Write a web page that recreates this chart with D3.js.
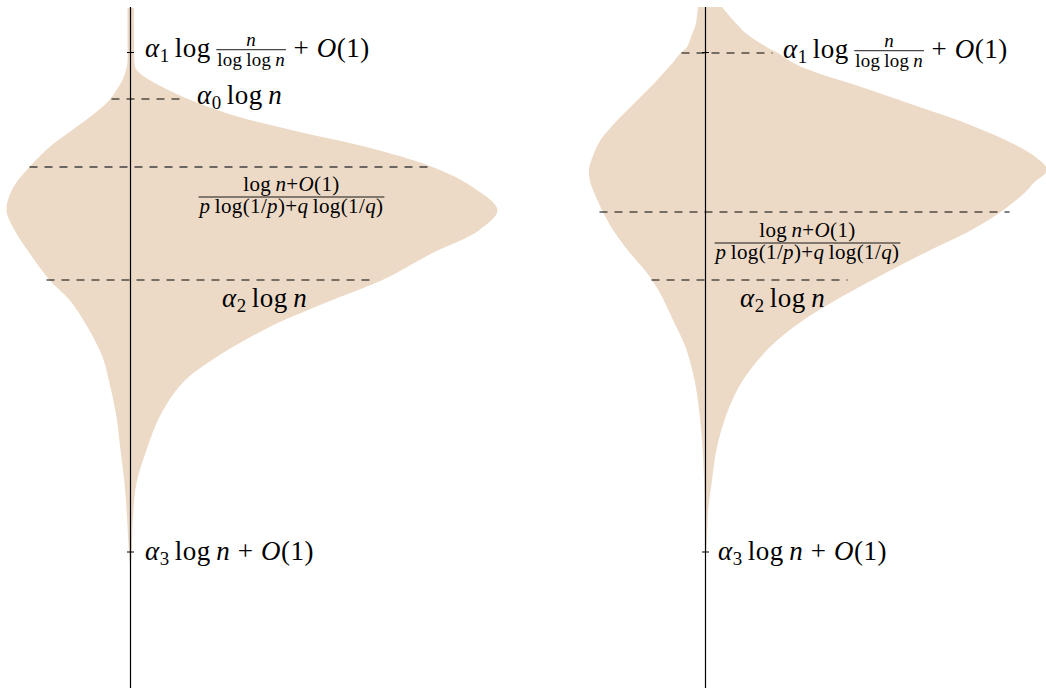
<!DOCTYPE html>
<html>
<head>
<meta charset="utf-8">
<script src="https://cdn.jsdelivr.net/npm/d3@7"></script>
<style>
  html, body { margin: 0; padding: 0; background: #fff; }
  svg { display: block; }
  text { font-family: "Liberation Serif", "Times New Roman", serif; fill: #000; }
</style>
</head>
<body>
<svg id="chart" width="1046" height="688"></svg>
<script>
'use strict';

// depth is measured down the axis, widths away from it (west = left, east = right)
var depthA = [0, 32, 54, 60, 64, 72, 82, 92, 107, 124, 139, 159, 179, 202, 222, 245, 272, 292, 319, 349, 375, 409, 442, 475, 509, 537, 557];
var westA  = [3, 3, 3, 4, 5, 8, 14, 21, 38, 61, 81, 101, 117, 124, 116, 101, 81, 61, 43, 28, 21, 14, 10, 6, 3.5, 2, 0.5];
var eastA  = [3.5, 3.5, 4, 5, 8, 19, 38, 60, 102, 169, 236, 302, 342, 367, 349, 302, 252, 202, 139, 86, 52, 29, 16, 6, 2.5, 1.5, 0.5];

var depthB = [-1, 12, 19, 25, 39, 45, 55, 65, 77, 89, 100, 112, 122, 132, 149, 162, 175, 182, 202, 222, 245, 265, 285, 312, 339, 372, 405, 439, 472, 505, 532, 547];
var westB  = [7.5, 9, 10.5, 13, 18.5, 25, 33, 42, 53, 65, 76, 88, 97, 105, 113, 116.5, 115, 112.5, 103.5, 92.5, 75.5, 58.5, 45.5, 32.5, 20, 11, 6, 3, 1.5, 0.8, 0.4, 0.2];
var eastB  = [16.5, 27.5, 34, 40, 61, 72.5, 88, 112, 150, 185, 217, 252, 277, 300, 330, 341.5, 328, 322, 298, 266, 219, 180, 143, 98, 64.5, 37.5, 21.5, 11.5, 6.5, 2.5, 1.5, 0.3];

// dashed levels: depth, west end, east end
var dashDepthA = [91, 159, 272];
var dashWestA  = [19, 101, 84];
var dashEastA  = [52, 301, 244];

var dashDepthB = [45, 204, 272];
var dashWestB  = [24, 106, 54];
var dashEastB  = [67, 304, 142];

var tickDepths = [44.5, 544];

var W = 1046, H = 688;
var svg = d3.select("#chart");
var y = d3.scaleLinear().domain([0, 680]).range([8, 688]);

// small math typesetter: tokens are laid out left to right
function R(t) { return { t: t }; }
function I(t) { return { t: t, it: true }; }
function S(t) { return { t: t, sub: true }; }
function G(em) { return { gap: em }; }
function F(num, den, o) { return { num: num, den: den, o: o }; }

function run(g, x, base, tokens, size) {
	var cx = x;
	tokens.forEach(function(tk) {
		if (tk.gap) {
			cx += tk.gap * size;
		} else if (tk.num) {
			var o = tk.o, fs = size * o.scale;
			var gn = g.append("g"), gd = g.append("g");
			var w1 = run(gn, 0, base - o.up * size, tk.num, fs);
			var w2 = run(gd, 0, base + o.down * size, tk.den, fs);
			var w = Math.max(w1, w2) + 2;
			gn.attr("transform", "translate(" + (cx + (w - w1) / 2) + ",0)");
			gd.attr("transform", "translate(" + (cx + (w - w2) / 2) + ",0)");
			g.append("line")
				.attr("x1", cx).attr("x2", cx + w)
				.attr("y1", base - o.bar * size).attr("y2", base - o.bar * size)
				.attr("stroke", "#000").attr("stroke-width", 0.9);
			cx += w;
		} else {
			var fsz = tk.sub ? size * 0.7 : size;
			var t = g.append("text")
				.attr("x", cx)
				.attr("y", base + (tk.sub ? size * 0.2 : 0))
				.attr("font-size", fsz)
				.attr("letter-spacing", fsz * 0.018)
				.attr("font-style", tk.it ? "italic" : "normal")
				.text(tk.t);
			cx += t.node().getComputedTextLength();
		}
	});
	return cx - x;
}

var thin = 0.2, med = 0.28;
var smallFrac = { scale: 0.7, up: 0.4, down: 0.32, bar: 0.27 };

var labelAlpha1 = [I("α"), S("1"), G(thin), R("log"), G(thin),
	F([I("n")], [R("log"), G(thin), R("log"), G(thin), I("n")], smallFrac),
	G(med), R("+"), G(med), I("O"), R("(1)")];
var labelAlpha0 = [I("α"), S("0"), G(thin), R("log"), G(thin), I("n")];
var labelAlpha2 = [I("α"), S("2"), G(thin), R("log"), G(thin), I("n")];
var labelAlpha3 = [I("α"), S("3"), G(thin), R("log"), G(thin), I("n"), G(med), R("+"), G(med), I("O"), R("(1)")];
var fracNum = [R("log"), G(thin), I("n"), R("+"), I("O"), R("(1)")];
var fracDen = [I("p"), G(thin), R("log(1/"), I("p"), R(")+"), I("q"), G(thin), R("log(1/"), I("q"), R(")")];

function bigFraction(g, cx, barY) {
	var inner = g.append("g");
	var w = run(inner, 0, barY, [F(fracNum, fracDen, { scale: 1, up: 0.28, down: 0.78, bar: 0 })], 21);
	inner.attr("transform", "translate(" + (cx - w / 2) + ",0)");
}

function panel(axisX, depth, west, east, dDepth, dWest, dEast, darkMain) {
	var g = svg.append("g");
	var x = d3.scaleLinear().domain([-200, 400]).range([axisX - 200, axisX + 400]);

	var area = d3.area()
		.y(function(d, i) { return y(depth[i]); })
		.x0(function(d, i) { return x(-west[i]); })
		.x1(function(d, i) { return x(east[i]); })
		.curve(d3.curveCatmullRom.alpha(0.5));

	g.append("path")
		.datum(depth)
		.attr("d", area)
		.attr("fill", "#ecdac7");

	g.selectAll("line.dash")
		.data(dDepth)
		.enter().append("line")
		.attr("class", "dash")
		.attr("x1", function(d, i) { return x(-dWest[i]); })
		.attr("x2", function(d, i) { return x(dEast[i]); })
		.attr("y1", function(d) { return y(d); })
		.attr("y2", function(d) { return y(d); })
		.attr("stroke", function(d, i) { return darkMain && i === 1 ? "#6b6661" : "#000"; })
		.attr("stroke-width", function(d, i) { return darkMain && i === 1 ? 1.8 : 1.2; })
		.attr("stroke-dasharray", "8,7");

	g.append("line")
		.attr("x1", x(0)).attr("x2", x(0))
		.attr("y1", y(-1)).attr("y2", H)
		.attr("stroke", "#000").attr("stroke-width", 1.2);

	g.selectAll("line.tick")
		.data(tickDepths)
		.enter().append("line")
		.attr("class", "tick")
		.attr("x1", x(-3.5)).attr("x2", x(3.5))
		.attr("y1", function(d) { return y(d); })
		.attr("y2", function(d) { return y(d); })
		.attr("stroke", "#000").attr("stroke-width", 1);

	return { g: g, x: x };
}

var fs = 27;
var pA = panel(130.5, depthA, westA, eastA, dashDepthA, dashWestA, dashEastA, true);
run(pA.g, pA.x(14.5), 57, labelAlpha1, fs);
run(pA.g, pA.x(66.5), 104, labelAlpha0, fs);
bigFraction(pA.g, pA.x(161), 197);
run(pA.g, pA.x(91.5), 307, labelAlpha2, fs);
run(pA.g, pA.x(14.5), 560, labelAlpha3, fs);

var pB = panel(705.5, depthB, westB, eastB, dashDepthB, dashWestB, dashEastB, false);
run(pB.g, pB.x(77.5), 58, labelAlpha1, fs);
bigFraction(pB.g, pB.x(102), 243);
run(pB.g, pB.x(34.5), 307, labelAlpha2, fs);
run(pB.g, pB.x(12.5), 560, labelAlpha3, fs);
</script>
</body>
</html>
